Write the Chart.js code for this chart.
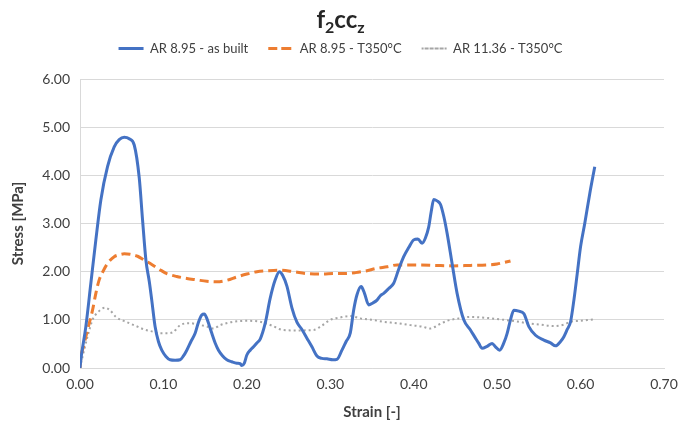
<!DOCTYPE html>
<html>
<head>
<meta charset="utf-8">
<script src="https://cdn.jsdelivr.net/npm/chart.js@4.4.1/dist/chart.umd.min.js"></script>
<style>
  html, body { margin: 0; padding: 0; background: #ffffff; }
  #wrap { width: 681px; height: 429px; position: relative; }
</style>
</head>
<body>
<div id="wrap"><canvas id="c" width="681" height="429"></canvas></div>
<script>
// ---- Data ----
const titleParts = [["f", false], ["2", true], ["cc", false], ["z", true]];
const seriesNames = ["AR 8.95 - as built", "AR 8.95 - T350°C", "AR 11.36 - T350°C"];
const xTickLabels = ["0.00", "0.10", "0.20", "0.30", "0.40", "0.50", "0.60", "0.70"];
const yTickLabels = ["0.00", "1.00", "2.00", "3.00", "4.00", "5.00", "6.00"];

const strainAsBuilt = [0, 0.001, 0.007, 0.013, 0.019, 0.025, 0.033, 0.041, 0.047, 0.053, 0.059, 0.065, 0.071, 0.075, 0.079, 0.083, 0.086, 0.090, 0.094, 0.098, 0.103, 0.108, 0.114, 0.120, 0.124, 0.128, 0.133, 0.138, 0.142, 0.146, 0.149, 0.152, 0.155, 0.158, 0.162, 0.166, 0.171, 0.176, 0.182, 0.188, 0.192, 0.194, 0.197, 0.200, 0.204, 0.208, 0.212, 0.216, 0.222, 0.228, 0.234, 0.239, 0.243, 0.248, 0.254, 0.260, 0.266, 0.272, 0.278, 0.284, 0.290, 0.296, 0.303, 0.308, 0.314, 0.319, 0.324, 0.328, 0.332, 0.337, 0.341, 0.346, 0.351, 0.356, 0.360, 0.364, 0.370, 0.376, 0.382, 0.388, 0.394, 0.400, 0.405, 0.410, 0.414, 0.418, 0.421, 0.424, 0.428, 0.432, 0.436, 0.440, 0.446, 0.452, 0.460, 0.468, 0.474, 0.478, 0.482, 0.488, 0.494, 0.498, 0.503, 0.508, 0.512, 0.516, 0.520, 0.526, 0.532, 0.538, 0.546, 0.556, 0.564, 0.570, 0.576, 0.580, 0.584, 0.588, 0.592, 0.596, 0.600, 0.605, 0.611, 0.617];
const stressAsBuilt = [0, 0.17, 0.86, 1.76, 2.66, 3.49, 4.18, 4.59, 4.74, 4.79, 4.76, 4.63, 3.95, 3.07, 2.24, 1.80, 1.41, 0.86, 0.55, 0.37, 0.24, 0.17, 0.16, 0.17, 0.25, 0.37, 0.55, 0.72, 0.95, 1.10, 1.12, 1.03, 0.88, 0.72, 0.52, 0.37, 0.25, 0.17, 0.13, 0.10, 0.09, 0.05, 0.10, 0.27, 0.37, 0.44, 0.52, 0.60, 0.93, 1.45, 1.83, 2.00, 1.92, 1.70, 1.25, 0.95, 0.80, 0.62, 0.44, 0.25, 0.20, 0.19, 0.17, 0.18, 0.37, 0.55, 0.73, 1.20, 1.52, 1.69, 1.55, 1.31, 1.35, 1.41, 1.50, 1.55, 1.65, 1.76, 2.05, 2.31, 2.50, 2.66, 2.68, 2.59, 2.70, 2.93, 3.25, 3.50, 3.47, 3.40, 3.15, 2.80, 2.17, 1.55, 1.00, 0.79, 0.62, 0.51, 0.41, 0.45, 0.51, 0.44, 0.37, 0.52, 0.72, 1.00, 1.20, 1.18, 1.13, 0.86, 0.68, 0.58, 0.52, 0.46, 0.55, 0.65, 0.80, 0.96, 1.41, 1.96, 2.52, 3.00, 3.62, 4.18];

const strainT350 = [0, 0.001, 0.005, 0.009, 0.015, 0.019, 0.023, 0.028, 0.033, 0.041, 0.047, 0.053, 0.060, 0.069, 0.077, 0.086, 0.095, 0.104, 0.116, 0.128, 0.140, 0.152, 0.164, 0.176, 0.188, 0.200, 0.212, 0.226, 0.240, 0.256, 0.272, 0.290, 0.305, 0.316, 0.330, 0.344, 0.356, 0.368, 0.380, 0.394, 0.408, 0.426, 0.447, 0.468, 0.488, 0.500, 0.508, 0.516];
const stressT350 = [0, 0.20, 0.50, 0.79, 1.20, 1.55, 1.83, 2.02, 2.17, 2.31, 2.35, 2.37, 2.36, 2.32, 2.24, 2.15, 2.05, 1.96, 1.90, 1.86, 1.83, 1.80, 1.79, 1.82, 1.89, 1.95, 2.00, 2.02, 2.03, 2.00, 1.96, 1.95, 1.96, 1.96, 1.98, 2.02, 2.07, 2.10, 2.14, 2.14, 2.14, 2.13, 2.12, 2.13, 2.14, 2.16, 2.19, 2.22];

const strainAR1136 = [0, 0.003, 0.009, 0.015, 0.021, 0.030, 0.036, 0.043, 0.055, 0.066, 0.077, 0.086, 0.096, 0.104, 0.112, 0.120, 0.132, 0.142, 0.152, 0.160, 0.168, 0.184, 0.200, 0.216, 0.230, 0.243, 0.260, 0.280, 0.290, 0.300, 0.312, 0.324, 0.336, 0.350, 0.364, 0.380, 0.396, 0.410, 0.420, 0.430, 0.440, 0.454, 0.468, 0.488, 0.508, 0.522, 0.536, 0.552, 0.568, 0.580, 0.588, 0.600, 0.617];
const stressAR1136 = [0, 0.23, 0.65, 1.00, 1.15, 1.25, 1.20, 1.06, 0.96, 0.88, 0.80, 0.76, 0.72, 0.72, 0.75, 0.89, 0.93, 0.90, 0.86, 0.82, 0.89, 0.96, 0.98, 0.96, 0.88, 0.79, 0.78, 0.79, 0.88, 1.00, 1.05, 1.08, 1.03, 1.00, 0.96, 0.93, 0.89, 0.86, 0.82, 0.90, 0.98, 1.03, 1.06, 1.04, 1.00, 0.97, 0.93, 0.90, 0.87, 0.90, 0.96, 0.98, 1.01];

const toPoints = (xs, ys) => xs.map((x, i) => ({ x: x, y: ys[i] }));

const FONT = "Lato, 'Open Sans', 'Liberation Sans', sans-serif";

const titlePlugin = {
  id: 'subscriptTitle',
  afterDraw(chart) {
    const ctx = chart.ctx;
    ctx.save();
    const big = "bold 24px " + FONT;
    const small = "bold 16px " + FONT;
    let total = 0;
    titleParts.forEach(([t, sub]) => { ctx.font = sub ? small : big; total += ctx.measureText(t).width; });
    let x = chart.width / 2 - total / 2;
    const baseY = 28;
    ctx.fillStyle = '#262626';
    ctx.textBaseline = 'alphabetic';
    ctx.textAlign = 'left';
    titleParts.forEach(([t, sub]) => {
      ctx.font = sub ? small : big;
      ctx.fillText(t, x, sub ? baseY + 5 : baseY);
      x += ctx.measureText(t).width;
    });
    ctx.restore();
  }
};

const legendSpacing = {
  id: 'legendSpacing',
  beforeInit(chart) {
    if (!chart.legend) return;
    const origFit = chart.legend.fit;
    chart.legend.fit = function () {
      origFit.bind(chart.legend)();
      this.height += 14;
    };
  }
};

new Chart(document.getElementById('c'), {
  type: 'line',
  data: {
    datasets: [
      { label: seriesNames[0], data: toPoints(strainAsBuilt, stressAsBuilt), borderColor: '#4472C4', backgroundColor: 'rgba(0,0,0,0)', borderWidth: 3, pointRadius: 0, cubicInterpolationMode: 'monotone', fill: false },
      { label: seriesNames[1], data: toPoints(strainT350, stressT350), borderColor: '#ED7D31', backgroundColor: 'rgba(0,0,0,0)', borderWidth: 3, borderDash: [9, 5], pointRadius: 0, cubicInterpolationMode: 'monotone', fill: false },
      { label: seriesNames[2], data: toPoints(strainAR1136, stressAR1136), borderColor: '#A5A5A5', backgroundColor: 'rgba(0,0,0,0)', borderWidth: 2, borderDash: [2, 3], pointRadius: 0, cubicInterpolationMode: 'monotone', fill: false }
    ]
  },
  options: {
    responsive: false,
    animation: false,
    devicePixelRatio: 1,
    layout: { padding: { top: 22, left: 0, right: 0, bottom: 0 } },
    plugins: {
      title: { display: false },
      tooltip: { enabled: false },
      legend: {
        display: true,
        position: 'top',
        labels: {
          boxWidth: 25,
          boxHeight: 0,
          padding: 20,
          color: '#404040',
          font: { family: FONT, size: 13 }
        }
      }
    },
    scales: {
      x: {
        type: 'linear',
        min: 0, max: 0.7,
        afterBuildTicks(scale) { scale.ticks = xTickLabels.map(v => ({ value: parseFloat(v) })); },
        afterFit(scale) { scale.height = 61; scale.paddingRight = 17; },
        ticks: {
          callback: (v) => xTickLabels.find(l => Math.abs(parseFloat(l) - v) < 1e-9) || '',
          color: '#404040', font: { family: FONT, size: 14 }, padding: 8, maxRotation: 0
        },
        grid: { display: false, drawTicks: false },
        border: { display: true, color: '#D9D9D9', width: 1 },
        title: { display: true, text: 'Strain [-]', color: '#404040', font: { family: FONT, size: 15, weight: 'bold' }, padding: { top: 0, bottom: 8 } }
      },
      y: {
        type: 'linear',
        min: 0, max: 6,
        afterBuildTicks(scale) { scale.ticks = yTickLabels.map(v => ({ value: parseFloat(v) })); },
        afterFit(scale) { scale.width = 80; },
        ticks: {
          callback: (v) => yTickLabels.find(l => Math.abs(parseFloat(l) - v) < 1e-9) || '',
          color: '#404040', font: { family: FONT, size: 14 }, padding: 10
        },
        grid: { display: true, color: '#D9D9D9', lineWidth: 1, drawTicks: false },
        border: { display: true, color: '#D9D9D9', width: 1 },
        title: { display: true, text: 'Stress [MPa]', color: '#404040', font: { family: FONT, size: 15, weight: 'bold' }, padding: { top: 9, bottom: 0 } }
      }
    }
  },
  plugins: [titlePlugin, legendSpacing]
});
</script>
</body>
</html>
